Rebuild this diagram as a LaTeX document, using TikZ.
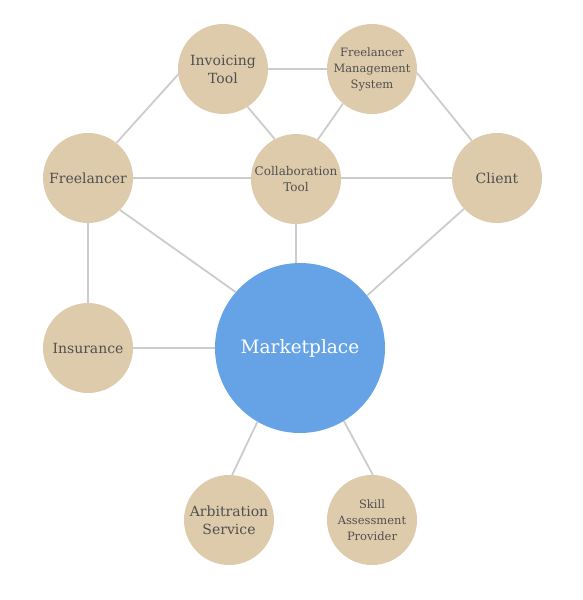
\documentclass[tikz,border=0pt]{standalone}
\usepackage{fontspec}
\setmainfont{DejaVu Serif}
\definecolor{beige}{HTML}{DECBAB}
\definecolor{mblue}{HTML}{66A3E6}
\definecolor{txt}{HTML}{505050}
\definecolor{edge}{HTML}{CCCCCC}
\begin{document}
\begin{tikzpicture}[x=1pt,y=-1pt,
  small/.style={circle,fill=beige,minimum size=90pt,inner sep=0pt,text=txt,align=center,font=\fontsize{14}{18}\selectfont},
  tiny/.style={small,font=\fontsize{11.5}{16}\selectfont},
  big/.style={circle,fill=mblue,minimum size=170pt,inner sep=0pt,text=white,font=\fontsize{18.5}{22}\selectfont},
  link/.style={draw=edge,line width=1.8pt}]
\useasboundingbox (0,0) rectangle (583,600);
\node[small] (inv) at (223,69) {Invoicing\\Tool};
\node[tiny] (fms) at (372,69) {Freelancer\\Management\\System};
\node[small] (fre) at (88,178) {Freelancer};
\node[tiny,font=\fontsize{12}{16}\selectfont] (col) at (296,179) {Collaboration\\Tool};
\node[small] (cli) at (497,178) {Client};
\node[small] (ins) at (88,348) {Insurance};
\node[big] (mkt) at (300,348) {Marketplace};
\node[small] (arb) at (229,520) {Arbitration\\Service};
\node[tiny] (ska) at (372,520) {Skill\\Assessment\\Provider};
\draw[link] (inv.east) -- (fms.west);
\draw[link] (inv.187) -- (fre.51);
\draw[link] (inv.303) -- (col.118);
\draw[link] (fms.230) -- (col.61);
\draw[link] (fms.355) -- (cli.124);
\draw[link] (fre.east) -- (fre.east -| col.west);
\draw[link] (cli.west -| col.east) -- (cli.west);
\draw[link] (fre.315) -- (mkt.139);
\draw[link] (fre.south) -- (ins.north);
\draw[link] (col.south) -- (col.south |- mkt.north);
\draw[link] (cli.223) -- (mkt.38);
\draw[link] (ins.east) -- (mkt.west);
\draw[link] (mkt.240) -- (arb.86);
\draw[link] (mkt.301) -- (ska.89);
\end{tikzpicture}
\end{document}
